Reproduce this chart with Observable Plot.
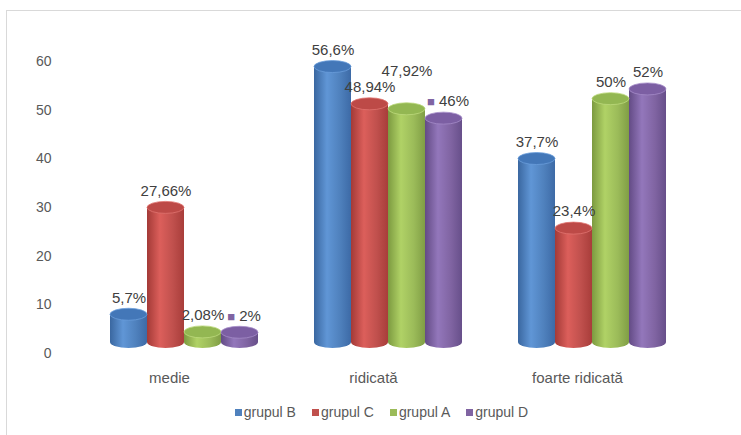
<!DOCTYPE html>
<html>
<head>
<meta charset="utf-8">
<script src="https://cdn.jsdelivr.net/npm/d3@7"></script>
<script src="https://cdn.jsdelivr.net/npm/@observablehq/plot@0.6"></script>
<style>
  html, body { margin: 0; padding: 0; background: #fff; }
  body { width: 741px; height: 435px; position: relative; overflow: hidden; font-family: "Liberation Sans", Arial, sans-serif; }
  #frame { position: absolute; left: 6px; top: 10px; width: 760px; height: 440px; border-left: 1px solid #d9d9d9; border-top: 1px solid #d9d9d9; }
  #chart { position: absolute; left: 0; top: 0; }
  #legend { position: absolute; left: 0; top: 400px; width: 741px; height: 24px; display: flex; justify-content: center; align-items: center; font-size: 14px; color: #595959; padding-left: 22px; box-sizing: border-box; }
  .item { display: flex; align-items: center; margin: 0 8px; }
  .sw { width: 7px; height: 7px; margin-right: 2px; }
</style>
</head>
<body>
<div id="frame"></div>
<div id="chart"></div>
<div id="legend"></div>
<script>
const categories = ["medie", "ridicată", "foarte ridicată"];
const groups = ["grupul B", "grupul C", "grupul A", "grupul D"];
const valuesB = [5.7, 56.6, 37.7];
const valuesC = [27.66, 48.94, 23.4];
const valuesA = [2.08, 47.92, 50];
const valuesD = [2, 46, 52];
// data labels that also show the legend key (as in the original)
const legendKeyD = [true, true, false];
const yTicks = [0, 10, 20, 30, 40, 50, 60];
const colors = ["#4f81bd", "#c0504d", "#9bbb59", "#8064a2"];

const series = [valuesB, valuesC, valuesA, valuesD];
const keyFlags = [[false, false, false], [false, false, false], [false, false, false], legendKeyD];
const data = categories.flatMap((c, i) => groups.map((g, j) => ({cat: c, group: g, value: series[j][i], key: keyFlags[j][i], color: colors[j]})));
const fmt = v => String(v).replace(".", ",") + "%";

const chart = Plot.plot({
  width: 741,
  height: 400,
  marginLeft: 81,
  marginRight: 47,
  marginTop: 50,
  marginBottom: 58,
  style: {fontFamily: "Liberation Sans, Arial, sans-serif", fontSize: "14px", color: "#595959", background: "transparent"},
  fx: {domain: categories, paddingInner: 0.2665, paddingOuter: 0.132, label: null},
  x: {domain: groups, padding: 0, axis: null},
  y: {domain: [0, 60], axis: null},
  color: {domain: groups, range: colors},
  marks: [
    Plot.axisY({ticks: yTicks, tickSize: 0, label: null, fontSize: 14, fill: "#595959", dy: 11, dx: -49}),
    Plot.barY(data, {fx: "cat", x: "group", y: "value", fill: "group"}),
    Plot.text(data, {fx: "cat", x: "group", y: "value", text: d => fmt(d.value), dy: -17, fontSize: 15, fill: "#404040"}),
    Plot.axisFx({anchor: "bottom", tickSize: 0, label: null, fontSize: 15, fill: "#595959", dy: 21, dx: -15})
  ]
});
document.getElementById("chart").appendChild(chart);

// cylinder shading
const svg = d3.select(chart);
const defs = svg.insert("defs", ":first-child");
const shades = {
  "#4f81bd": {dark: "#3a67a0", light: "#6096d6", edge: "#3d6aa6", top: "#4377b8", rim: "#6a9ddb"},
  "#c0504d": {dark: "#a33a37", light: "#dc5f5b", edge: "#a83d3a", top: "#bd4a47", rim: "#e07370"},
  "#9bbb59": {dark: "#7c9a40", light: "#b0d266", edge: "#809e45", top: "#93b752", rim: "#bcd97c"},
  "#8064a2": {dark: "#634b85", light: "#9377bb", edge: "#674f8a", top: "#7c5fa3", rim: "#a58bc8"}
};
Object.entries(shades).forEach(([c, s], i) => {
  const g = defs.append("linearGradient").attr("id", "cyl" + i).attr("x1", 0).attr("x2", 1).attr("y1", 0).attr("y2", 0);
  g.append("stop").attr("offset", "0%").attr("stop-color", s.dark);
  g.append("stop").attr("offset", "35%").attr("stop-color", s.light);
  g.append("stop").attr("offset", "70%").attr("stop-color", c);
  g.append("stop").attr("offset", "100%").attr("stop-color", s.edge);
  s.id = "cyl" + i;
});
svg.selectAll("rect").each(function() {
  const r = d3.select(this);
  const f = (r.attr("fill") || "").toLowerCase();
  const s = shades[f];
  if (!s) return;
  const x = +r.attr("x"), y = +r.attr("y"), w = +r.attr("width"), h = +r.attr("height");
  const parent = d3.select(this.parentNode);
  r.attr("fill", `url(#${s.id})`);
  parent.append("ellipse").attr("cx", x + w / 2).attr("cy", y + h).attr("rx", w / 2).attr("ry", 6).attr("fill", `url(#${s.id})`);
  parent.append("ellipse").attr("cx", x + w / 2).attr("cy", y).attr("rx", w / 2).attr("ry", 6).attr("fill", s.top).attr("stroke", s.rim).attr("stroke-width", 0.8);
});

// value labels: legend keys and overlap avoidance
const labelTexts = new Set(data.map(d => fmt(d.value)));
const byParent = new Map();
svg.selectAll("text").each(function() {
  if (!labelTexts.has(this.textContent)) return;
  const p = this.parentNode;
  if (!byParent.has(p)) byParent.set(p, []);
  byParent.get(p).push(this);
});
for (const [p, nodes] of byParent) {
  const placed = [];
  nodes.forEach(node => {
    const d = data.find(e => fmt(e.value) === node.textContent && e.key);
    if (d) {
      const t = d3.select(node);
      const label = node.textContent;
      t.text(null);
      t.append("tspan").attr("fill", d.color).attr("font-size", 13).text("■");
      t.append("tspan").text(" " + label);
      t.attr("dx", 4);
    }
    const r = node.getBoundingClientRect();
    const b = {x: r.left, y: r.top + 2, width: r.width, height: r.height - 4};
    let shift = 0;
    for (let k = 0; k < 10; k++) {
      const hit = placed.find(q => b.x < q.x + q.width && b.x + b.width > q.x && b.y + shift < q.y + q.height && b.y + shift + b.height > q.y);
      if (!hit) break;
      shift = hit.y - 3 - (b.y + b.height);
    }
    if (shift) {
      const tr = node.getAttribute("transform");
      node.setAttribute("transform", (tr ? tr + " " : "") + `translate(0,${shift})`);
    }
    placed.push({x: b.x, y: b.y + shift, width: b.width, height: b.height});
  });
}

// legend
const legend = d3.select("#legend");
groups.forEach((g, i) => {
  const it = legend.append("div").attr("class", "item");
  it.append("div").attr("class", "sw").style("background", colors[i]);
  it.append("span").text(g);
});
</script>
</body>
</html>
